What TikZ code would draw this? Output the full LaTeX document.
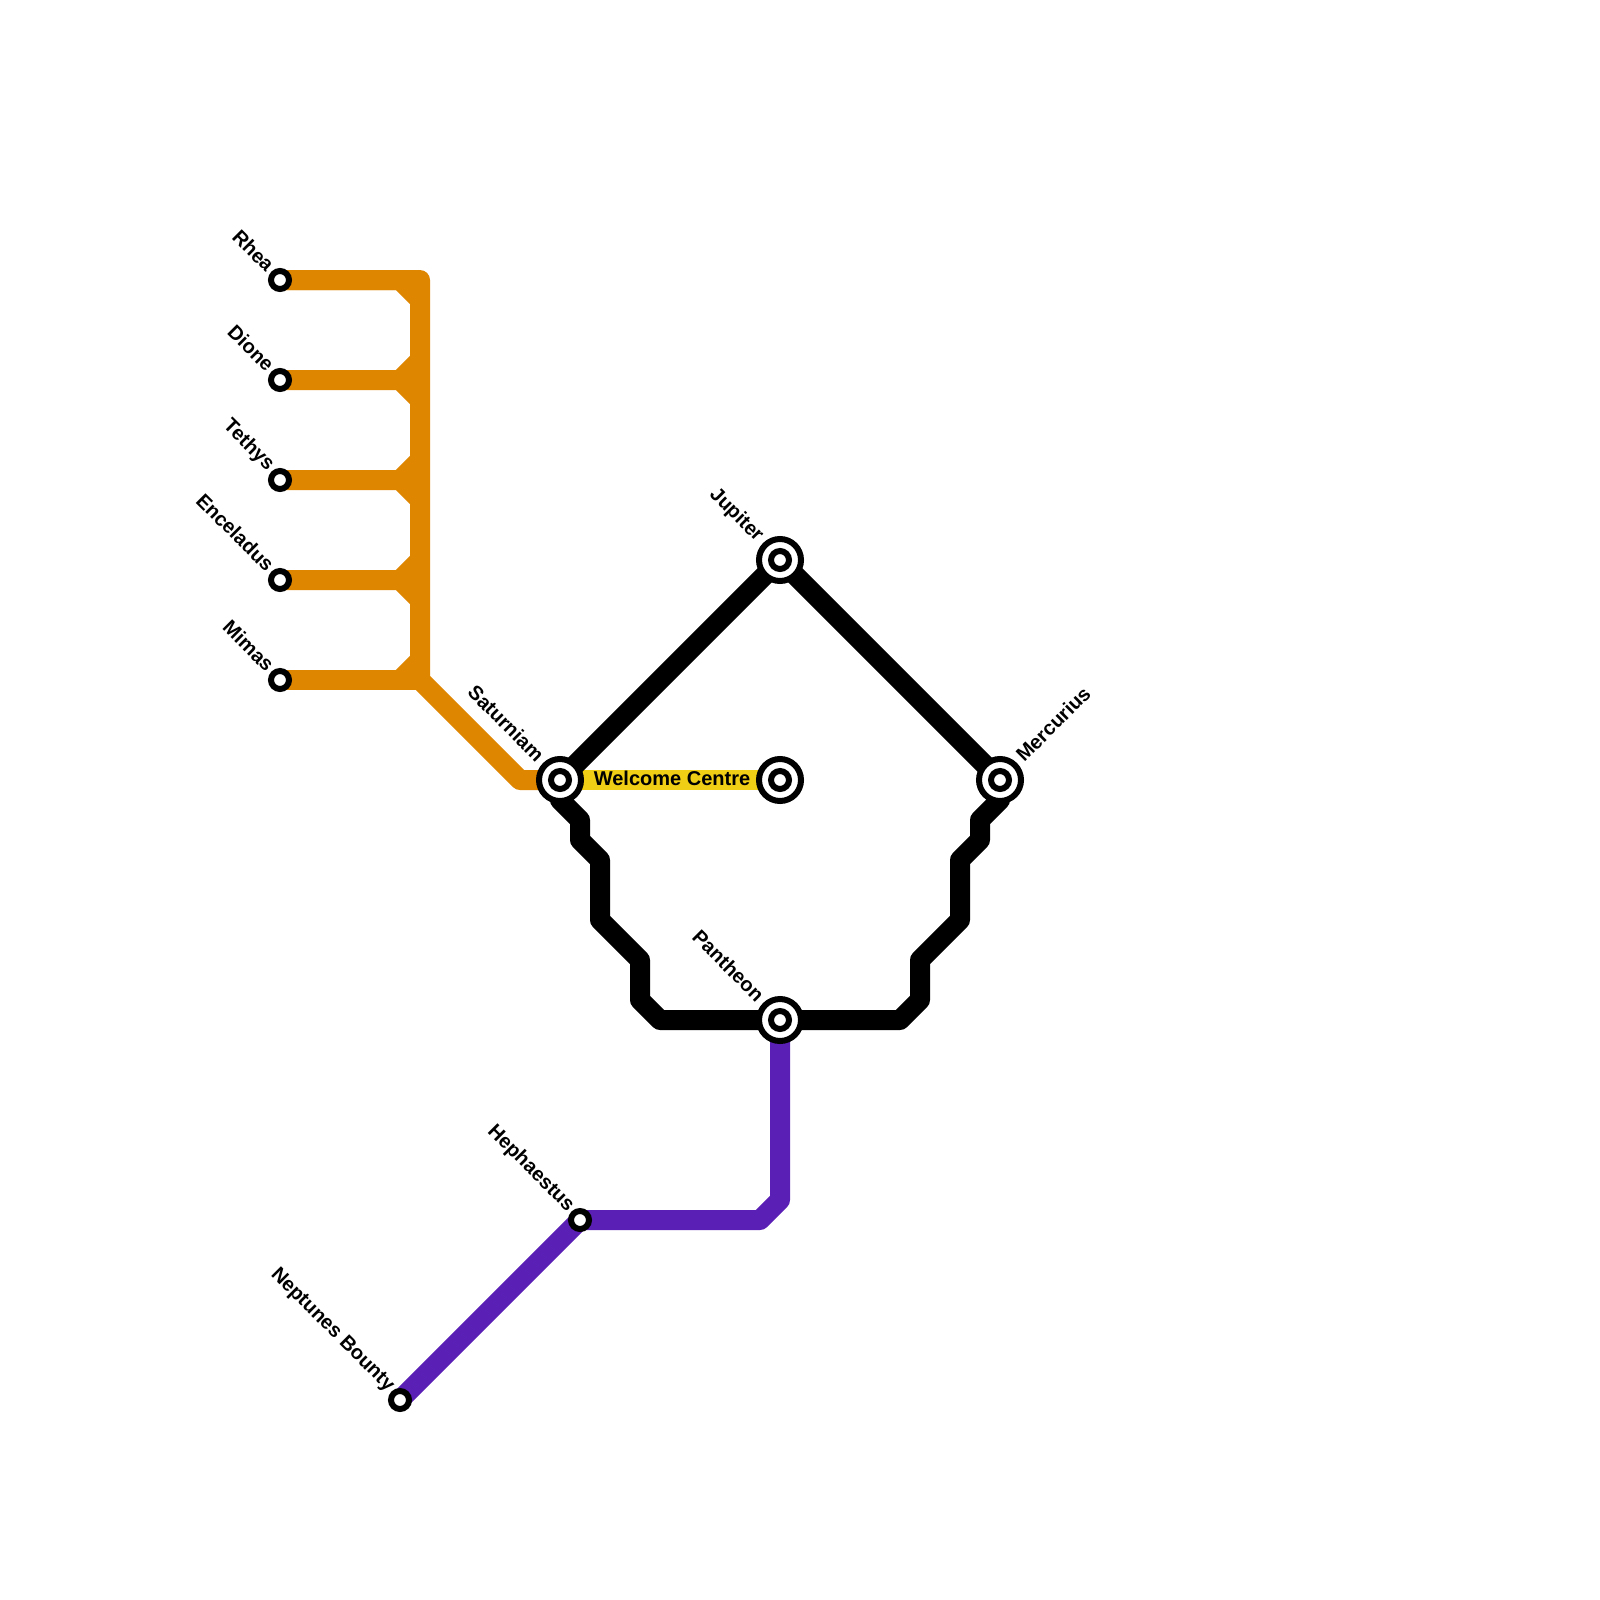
\documentclass[tikz,border=0pt]{standalone}
\usepackage{fontspec}
\setmainfont{Liberation Sans}
\usetikzlibrary{calc, backgrounds}
\definecolor{moonline}{HTML}{DF8600}
\definecolor{welcomeline}{HTML}{F0CE15}
\definecolor{forgeline}{HTML}{5A1FB5}
\tikzset{
    moonroute/.style={line width=10pt, moonline, line join=round},
    welcomeroute/.style={line width=10pt, welcomeline},
    planetroute/.style={line width=10pt, black, line join=round},
    forgeroute/.style={line width=10pt, forgeline, line join=round},
    halt/.style={circle, draw=black, fill=white, line width=3pt, minimum size=9pt, inner sep=0pt},
    hub/.style={circle, draw=black, fill=white, line width=3pt, minimum size=21pt, inner sep=0pt},
    hubcore/.style={circle, draw=black, fill=white, line width=3pt, minimum size=9pt, inner sep=0pt},
    namewest/.style={rotate=-45, anchor=east, inner sep=0pt, font=\bfseries\fontsize{10}{12}\selectfont},
    nameeast/.style={rotate=45, anchor=west, inner sep=0pt, font=\bfseries\fontsize{10}{12}\selectfont}
}
\begin{document}
\begin{tikzpicture}[x=0.5pt,y=-0.5pt]
    \useasboundingbox (0,0) rectangle (1600,1600);

    % Stations
    \foreach \name/\y in {rhea/280, dione/380, tethys/480, enceladus/580, mimas/680} {
        \node[halt] (\name) at (280,\y) {};
    }
    \node[halt] (hephaestus) at (580,1220) {};
    \node[halt] (neptunes) at (400,1400) {};
    \foreach \name/\x/\y in {saturniam/560/780, jupiter/780/560, welcome/780/780, mercurius/1000/780, pantheon/780/1020} {
        \node[hub] (\name) at (\x,\y) {};
        \node[hubcore] (\name core) at (\x,\y) {};
    }

    % Lines
    \begin{scope}[on background layer]
        \draw[moonroute] (rhea.center) -- (420,280) -- (420,680) -- (520,780) -- (saturniam.center);
        \draw[moonroute] (rhea.center) -- (400,280) -- (420,300);
        \foreach \name/\y in {dione/380, tethys/480, enceladus/580} {
            \draw[moonroute] (\name.center) -- (400,\y) -- (420,\y+20);
            \draw[moonroute] (400,\y) -- (420,\y-20);
        }
        \draw[moonroute] (mimas.center) -- (420,680);
        \draw[moonroute] (400,680) -- (420,660);

        \draw[welcomeroute] (saturniam.center) -- (welcome.center);

        \draw[planetroute] (saturniam.center) -- (jupiter.center) -- (mercurius.center);
        \draw[planetroute] (saturniam.center) -- (560,800) -- (580,820) -- (580,840) -- (600,860) -- (600,920)
            -- (640,960) -- (640,1000) -- (660,1020) -- (pantheon.center);
        \draw[planetroute] (mercurius.center) -- (1000,800) -- (980,820) -- (980,840) -- (960,860) -- (960,920)
            -- (920,960) -- (920,1000) -- (900,1020) -- (pantheon.center);

        \draw[forgeroute] (pantheon.center) -- (780,1200) -- (760,1220) -- (hephaestus.center) -- (neptunes.center);
    \end{scope}

    % Names
    \foreach \name/\text in {rhea/Rhea, dione/Dione, tethys/Tethys, enceladus/Enceladus, mimas/Mimas} {
        \node[namewest] (\name label) at ($(\name)+(-9,-12)$) {\text};
    }
    \node[namewest] (hephaestus label) at ($(hephaestus)+(-9,-11)$) {Hephaestus};
    \node[namewest] (neptunes label) at ($(neptunes)+(-9,-11)$) {Neptunes Bounty};
    \node[namewest] (saturniam label) at ($(saturniam)+(-19,-22)$) {Saturniam};
    \node[namewest] (jupiter label) at ($(jupiter)+(-20,-21)$) {Jupiter};
    \node[namewest] (pantheon label) at ($(pantheon)+(-19,-22)$) {Pantheon};
    \node[nameeast] (mercurius label) at ($(mercurius)+(19,-22)$) {Mercurius};
    \node[inner sep=0pt, font=\bfseries\fontsize{10}{12}\selectfont] (welcome label) at (672,778) {Welcome Centre};
\end{tikzpicture}
\end{document}
